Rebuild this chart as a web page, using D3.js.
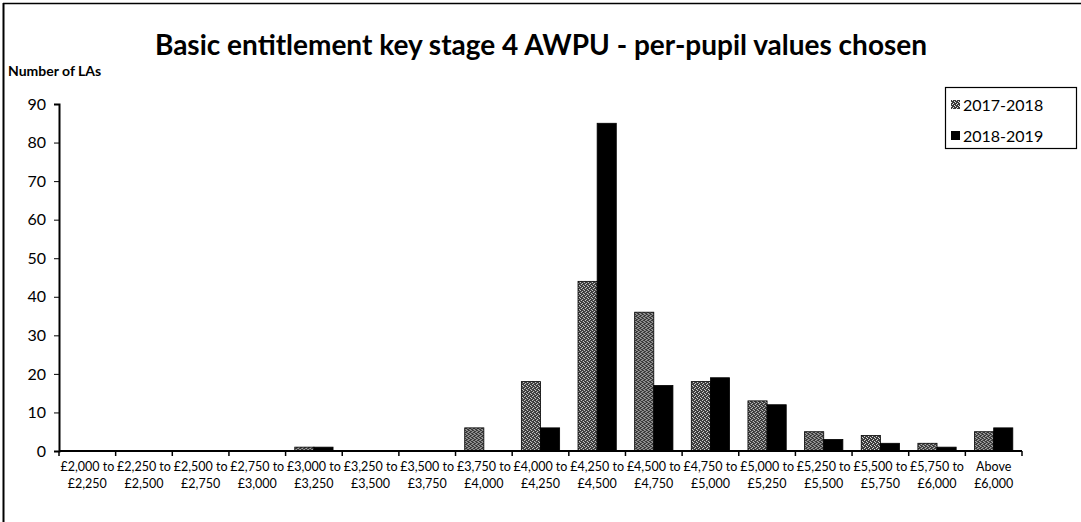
<!DOCTYPE html>
<html>
<head>
<meta charset="utf-8" />
<title>Basic entitlement KS4 AWPU</title>
<style>
body { margin: 0; background: #fff; }
text { font-family: Lato, "Open Sans", sans-serif; }
</style>
</head>
<body>
<div id="chart"></div>
<script src="https://d3js.org/d3.v7.min.js"></script>
<script>
(function(d3) {
'use strict';
var bandsFrom = ['£2,000 to', '£2,250 to', '£2,500 to', '£2,750 to', '£3,000 to', '£3,250 to',
  '£3,500 to', '£3,750 to', '£4,000 to', '£4,250 to', '£4,500 to', '£4,750 to', '£5,000 to',
  '£5,250 to', '£5,500 to', '£5,750 to', 'Above'];
var bandsTo = ['£2,250', '£2,500', '£2,750', '£3,000', '£3,250', '£3,500', '£3,750', '£4,000',
  '£4,250', '£4,500', '£4,750', '£5,000', '£5,250', '£5,500', '£5,750', '£6,000', '£6,000'];
var series = ['2017-2018', '2018-2019'];
var values1718 = [0, 0, 0, 0, 1, 0, 0, 6, 18, 44, 36, 18, 13, 5, 4, 2, 5];
var values1819 = [0, 0, 0, 0, 1, 0, 0, 0, 6, 85, 17, 19, 12, 3, 2, 1, 6];
var yTicks = [0, 10, 20, 30, 40, 50, 60, 70, 80, 90];

var width = 1081, height = 522;
var left = 59, right = 1022, top = 104, bottom = 451;

var svg = d3.select('#chart').append('svg')
  .attr('width', width).attr('height', height);

// stippled grey fill like the scanned original
var defs = svg.append('defs');
var pat = defs.append('pattern').attr('id', 'stipple')
  .attr('patternUnits', 'userSpaceOnUse').attr('width', 4).attr('height', 4);
pat.append('rect').attr('width', 4).attr('height', 4).attr('fill', '#3a3a3a');
[[0, 0], [2, 1], [1, 3], [3, 2]].forEach(function(p) {
  pat.append('rect').attr('x', p[0]).attr('y', p[1]).attr('width', 1).attr('height', 1).attr('fill', '#e0e0e0');
});

// outer frame (cropped)
svg.append('line').attr('x1', 3).attr('x2', width).attr('y1', 3.5).attr('y2', 3.5)
  .attr('stroke', '#000').attr('stroke-width', 1.5);
svg.append('line').attr('x1', 3.5).attr('x2', 3.5).attr('y1', 3).attr('y2', height)
  .attr('stroke', '#000').attr('stroke-width', 2);

svg.append('text').attr('x', 541).attr('y', 55).attr('text-anchor', 'middle')
  .attr('font-size', 28).attr('font-weight', 'bold')
  .text('Basic entitlement key stage 4 AWPU - per-pupil values chosen');

svg.append('text').attr('x', 8).attr('y', 76)
  .attr('font-size', 14).attr('font-weight', 'bold').text('Number of LAs');

var x = d3.scaleBand().domain(d3.range(bandsFrom.length)).range([left, right]).padding(0);
var x1 = d3.scaleBand().domain(series).range([0, x.bandwidth()]).paddingInner(0).paddingOuter(0.48);
var y = d3.scaleLinear().domain([0, 90]).range([bottom, top]);

var rows = bandsFrom.map(function(d, i) {
  return { i: i, vals: [values1718[i], values1819[i]] };
});

var g = svg.selectAll('g.cat').data(rows).enter().append('g')
  .attr('transform', function(d) { return 'translate(' + x(d.i) + ',0)'; });
g.selectAll('rect').data(function(d) {
  return series.map(function(s, k) { return { s: s, v: d.vals[k] }; });
}).enter().append('rect')
  .filter(function(d) { return d.v > 0; })
  .attr('x', function(d) { return x1(d.s); })
  .attr('width', x1.bandwidth())
  .attr('y', function(d) { return y(d.v); })
  .attr('height', function(d) { return bottom - y(d.v); })
  .attr('fill', function(d) { return d.s === series[0] ? 'url(#stipple)' : '#000'; })
  .attr('stroke', '#000').attr('stroke-width', 0.8);

// y axis
var yAxis = d3.axisLeft(y).tickValues(yTicks).tickSize(5).tickPadding(8);
var ya = svg.append('g').attr('transform', 'translate(' + left + ',0)').call(yAxis);
ya.selectAll('text').attr('font-size', 16).attr('fill', '#000');
ya.select('.domain').attr('stroke-width', 2);

// x axis
svg.append('line').attr('x1', left).attr('x2', right).attr('y1', bottom).attr('y2', bottom)
  .attr('stroke', '#000').attr('stroke-width', 2);
svg.selectAll('line.xt').data(d3.range(bandsFrom.length + 1)).enter().append('line')
  .attr('x1', function(d) { return left + d * x.step(); })
  .attr('x2', function(d) { return left + d * x.step(); })
  .attr('y1', bottom).attr('y2', bottom + 5).attr('stroke', '#000').attr('stroke-width', 1.5);

var xl = svg.selectAll('text.xl').data(rows).enter().append('text')
  .attr('text-anchor', 'middle').attr('font-size', 12.5)
  .attr('x', function(d) { return x(d.i) + x.bandwidth() / 2; });
xl.append('tspan').attr('y', 471).text(function(d) { return bandsFrom[d.i]; });
xl.append('tspan').attr('y', 488).attr('x', function(d) { return x(d.i) + x.bandwidth() / 2; })
  .text(function(d) { return bandsTo[d.i]; });

// legend
var lg = svg.append('g');
lg.append('rect').attr('x', 945.5).attr('y', 87.5).attr('width', 131).attr('height', 61)
  .attr('fill', '#fff').attr('stroke', '#000').attr('stroke-width', 1.2);
series.forEach(function(s, k) {
  lg.append('rect').attr('x', 951).attr('y', 100 + k * 31).attr('width', 9).attr('height', 9)
    .attr('fill', k === 0 ? 'url(#stipple)' : '#000');
  lg.append('text').attr('x', 963).attr('y', 111 + k * 31).attr('font-size', 16).text(s);
});
})(window.d3);
</script>
</body>
</html>
